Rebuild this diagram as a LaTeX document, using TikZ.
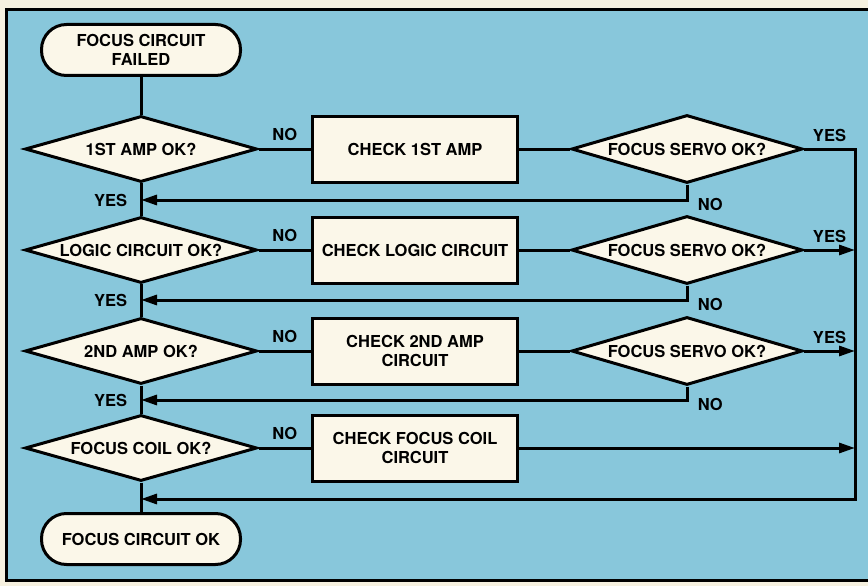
\documentclass[tikz,border=0pt]{standalone}
\usepackage{fontspec}
\setmainfont{TeX Gyre Heros}
\usetikzlibrary{arrows.meta,shapes.geometric}

\definecolor{panel}{RGB}{136,199,219}
\definecolor{paper}{RGB}{246,241,224}
\definecolor{boxfill}{RGB}{251,247,233}

\begin{document}
\begin{tikzpicture}[x=1pt,y=-1pt,>={Triangle[length=16pt,width=10pt]},
  line width=3pt,
  every node/.style={font=\fontsize{16.5}{19}\selectfont\bfseries},
  terminal/.style={draw,fill=boxfill,rounded corners=25pt,minimum width=199pt,
    minimum height=51pt,align=center,inner sep=2pt},
  decision/.style={draw,fill=boxfill,diamond,aspect=3.5,inner sep=0pt,
    minimum width=232pt,minimum height=66pt,align=center},
  process/.style={draw,fill=boxfill,rectangle,minimum width=205pt,
    minimum height=66pt,align=center,inner sep=2pt}]
  \useasboundingbox (0,0) rectangle (868,586);
  % panel
  \fill[paper] (0,0) rectangle (868,586);
  \draw[fill=panel] (872,10) -- (6,10) -- (6,580) -- (872,580);

  % main column
  \node[terminal] (start) at (141,50) {FOCUS CIRCUIT\\FAILED};
  \node[decision] (d1) at (141,149) {1ST AMP OK?};
  \node[decision] (d2) at (141,250) {LOGIC CIRCUIT OK?};
  \node[decision] (d3) at (141,351) {2ND AMP OK?};
  \node[decision] (d4) at (141,448) {FOCUS COIL OK?};
  \node[terminal] (stop) at (141,539) {FOCUS CIRCUIT OK};

  % checks
  \node[process] (b1) at (415,149) {CHECK 1ST AMP};
  \node[process] (b2) at (415,250) {CHECK LOGIC CIRCUIT};
  \node[process] (b3) at (415,351) {CHECK 2ND AMP\\CIRCUIT};
  \node[process] (b4) at (415,448) {CHECK FOCUS COIL\\CIRCUIT};

  % servo tests
  \node[decision,minimum width=231pt,minimum height=68pt] (s1) at (687,149) {FOCUS SERVO OK?};
  \node[decision,minimum width=231pt,minimum height=68pt] (s2) at (687,250) {FOCUS SERVO OK?};
  \node[decision,minimum width=231pt,minimum height=68pt] (s3) at (687,351) {FOCUS SERVO OK?};

  \coordinate (j1) at (141,200);
  \coordinate (j2) at (141,300);
  \coordinate (j3) at (141,400);
  \coordinate (j4) at (141,499);
  \coordinate (rt) at (855,499);

  \draw (start) -- (d1);
  \foreach \a/\b in {d1/d2,d2/d3,d3/d4,d4/stop}
    \draw (\a) -- (\b);
  \foreach \i in {1,2,3,4}
    \draw (d\i) -- node[above=3pt]{NO} (b\i);
  \foreach \i in {1,2,3}
    \draw (b\i) -- (s\i);

  % back to the main column
  \foreach \i in {1,2,3}
    \draw[->] (s\i.south) |- node[pos=0.5,anchor=west,xshift=6pt,yshift=-4pt]{NO} (j\i)
      node[anchor=east,xshift=-9pt]{YES};
  \draw[->] (s1.east) -| node[pos=0.25,above=2pt]{YES} (rt) -- (j4);
  \foreach \i in {2,3}
    \draw[->] (s\i.east) -- node[above=2pt]{YES} (s\i.east -| rt);
  \draw[->] (b4.east) -- (b4.east -| rt);
\end{tikzpicture}
\end{document}
